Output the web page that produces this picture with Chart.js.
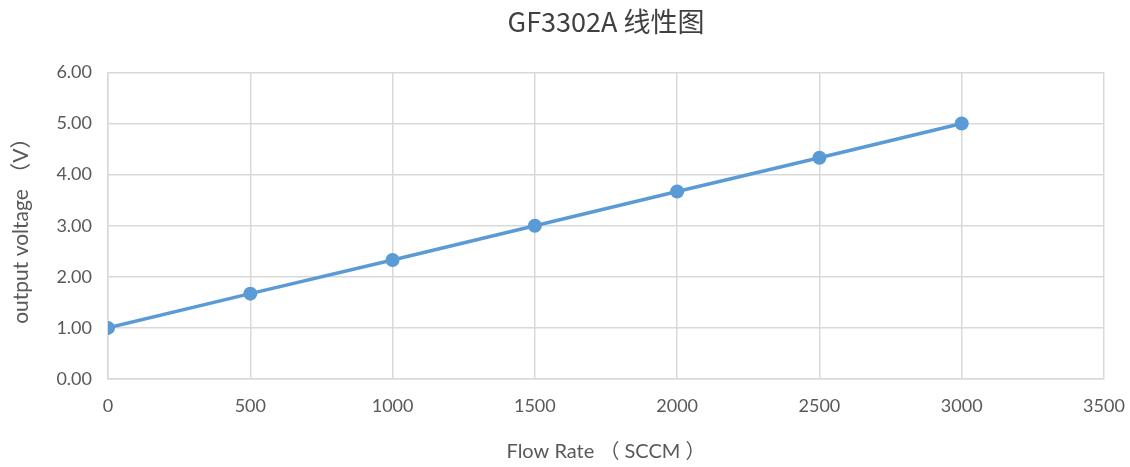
<!DOCTYPE html>
<html>
<head>
<meta charset="utf-8">
<script src="https://cdn.jsdelivr.net/npm/chart.js@4/dist/chart.umd.min.js"></script>
<style>
  html, body { margin: 0; padding: 0; background: #ffffff; }
  #wrap { width: 1130px; height: 467px; }
</style>
</head>
<body>
<div id="wrap"><canvas id="c" width="1130" height="467"></canvas></div>
<script>
// Data
const flowRate = [0, 500, 1000, 1500, 2000, 2500, 3000];
const outputVoltage = [1.00, 1.67, 2.33, 3.00, 3.67, 4.33, 5.00];
const xTicks = [0, 500, 1000, 1500, 2000, 2500, 3000, 3500];
const yTicks = [0, 1, 2, 3, 4, 5, 6];
const chartTitle = 'GF3302A 线性图';
const xTitle = 'Flow Rate （ SCCM ）';
const yTitle = 'output voltage （V）';

const points = flowRate.map((x, i) => ({ x: x, y: outputVoltage[i] }));
const textColor = '#595959';
const gridColor = '#d9d9d9';
const latin = "Lato, 'Noto Sans CJK SC', sans-serif";

new Chart(document.getElementById('c'), {
  type: 'scatter',
  data: {
    datasets: [{
      data: points,
      showLine: true,
      borderColor: '#5b9bd5',
      backgroundColor: '#5b9bd5',
      borderWidth: 3.5,
      pointRadius: 7,
      pointHoverRadius: 7,
      pointBorderWidth: 0
    }]
  },
  options: {
    responsive: false,
    animation: false,
    devicePixelRatio: 1,
    layout: { padding: { left: 0, right: 26, top: 0, bottom: 0 } },
    plugins: {
      legend: { display: false },
      tooltip: { enabled: false },
      title: {
        display: true,
        fullSize: false,
        text: chartTitle,
        color: '#404040',
        font: { family: "'Noto Sans CJK SC', sans-serif", size: 27, weight: 'normal', lineHeight: 1.2 },
        padding: { top: 6, bottom: 34 }
      }
    },
    scales: {
      x: {
        type: 'linear',
        min: xTicks[0],
        max: xTicks[xTicks.length - 1],
        afterBuildTicks: (s) => { s.ticks = xTicks.map(v => ({ value: v })); },
        afterFit: (s) => { s.height = 88; s.paddingRight = 0; s.paddingLeft = 0; },
        ticks: {
          color: textColor,
          font: { family: latin, size: 18 },
          padding: 16,
          maxRotation: 0,
          callback: (v) => String(v)
        },
        grid: { color: gridColor, lineWidth: 1.5, drawTicks: false },
        border: { color: gridColor, width: 1.5 },
        title: {
          display: true,
          text: xTitle,
          color: textColor,
          font: { family: latin, size: 20, lineHeight: 1.2 },
          padding: { top: 0, bottom: 3 }
        }
      },
      y: {
        type: 'linear',
        min: yTicks[0],
        max: yTicks[yTicks.length - 1],
        afterBuildTicks: (s) => { s.ticks = yTicks.map(v => ({ value: v })); },
        afterFit: (s) => { s.width = 108; },
        ticks: {
          color: textColor,
          font: { family: latin, size: 18 },
          padding: 16,
          callback: (v) => Number(v).toFixed(2)
        },
        grid: { color: gridColor, lineWidth: 1.5, drawTicks: false },
        border: { color: gridColor, width: 1.5 },
        title: {
          display: true,
          text: yTitle,
          color: textColor,
          font: { family: latin, size: 21, lineHeight: 1.2 },
          padding: { top: 9, bottom: 0 }
        }
      }
    }
  }
});
</script>
</body>
</html>
